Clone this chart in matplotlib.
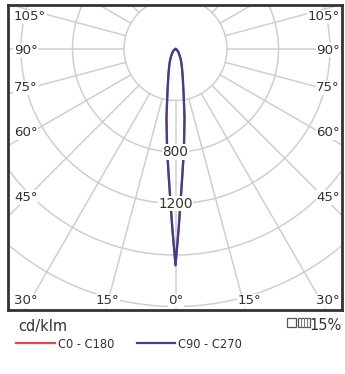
import numpy as np
import matplotlib
matplotlib.use('Agg')
import matplotlib.pyplot as plt
from matplotlib.lines import Line2D
from matplotlib.patches import Rectangle

# Light distribution, cd/klm, symmetric about 0 deg
gamma = [0, 1, 2, 3, 4, 5, 7.5, 10, 15, 20, 25, 30, 40, 50, 60, 70, 80, 90]
c0_c180 = [1680, 1390, 1160, 990, 860, 750, 530, 362, 212, 142, 100, 70, 38, 20, 10, 4, 1, 0]
c90_c270 = [1680, 1400, 1170, 1000, 870, 760, 540, 370, 216, 145, 103, 72, 39, 21, 10, 4, 1, 0]

ring_values = [400, 800, 1200, 1600, 2000, 2400, 2800]
ring_labels = [800, 1200]
spoke_angles = np.arange(0, 360, 15)

# angle labels: (text, x axes frac, y axes frac, ha)
angle_labels = [
    ('105°', 0.018, 0.961, 'left'), ('105°', 0.994, 0.961, 'right'),
    ('90°', 0.018, 0.852, 'left'), ('90°', 0.994, 0.852, 'right'),
    ('75°', 0.018, 0.728, 'left'), ('75°', 0.994, 0.728, 'right'),
    ('60°', 0.018, 0.582, 'left'), ('60°', 0.994, 0.582, 'right'),
    ('45°', 0.018, 0.369, 'left'), ('45°', 0.994, 0.369, 'right'),
    ('30°', 0.018, 0.030, 'left'), ('30°', 0.994, 0.030, 'right'),
    ('15°', 0.297, 0.030, 'center'), ('15°', 0.724, 0.030, 'center'),
    ('0°', 0.503, 0.030, 'center'),
]

GRID = '#cfcfcf'
RED = '#e5484b'
BLUE = '#3d3d98'
TXT = '#333333'


def curve_xy(angles, values):
    g = np.radians(np.array(angles, dtype=float))
    v = np.array(values, dtype=float)
    g = np.concatenate([-g[::-1], g[1:]])
    v = np.concatenate([v[::-1], v[1:]])
    return v * np.sin(g), -v * np.cos(g)


fig = plt.figure(figsize=(3.45, 3.74), dpi=100)
fig.patch.set_facecolor('white')

# frame: pixels 8..342 x, 5..310 y ; centre at (175.5, 49), 400 cd/klm = 51.5 px
s = 400 / 51.5
ax = fig.add_axes([8 / 345, (374 - 310) / 374, 334 / 345, 305 / 374])
ax.set_xlim((8 - 175.5) * s, (342 - 175.5) * s)
ax.set_ylim(-(310 - 49) * s, (49 - 5) * s)
ax.set_xticks([])
ax.set_yticks([])
for sp in ax.spines.values():
    sp.set_color(TXT)
    sp.set_linewidth(2)

t = np.linspace(0, 2 * np.pi, 400)
for r in ring_values:
    ax.plot(r * np.sin(t), r * np.cos(t), color=GRID, lw=1.1, zorder=1)
for a in spoke_angles:
    ar = np.radians(a)
    ax.plot([400 * np.sin(ar), 4000 * np.sin(ar)], [-400 * np.cos(ar), -4000 * np.cos(ar)],
            color=GRID, lw=1.1, zorder=1)

x, y = curve_xy(gamma, c0_c180)
ax.plot(x, y, color=RED, lw=1.6, zorder=3)
x, y = curve_xy(gamma, c90_c270)
ax.plot(x, y, color=BLUE, lw=1.6, zorder=4)

for v in ring_labels:
    ax.text(0, -v, str(v), ha='center', va='center', fontsize=9.8, color=TXT, zorder=5,
            bbox=dict(boxstyle='square,pad=0.05', fc='white', ec='none'))

for txt, xf, yf, ha in angle_labels:
    ax.text(xf, yf, txt, transform=ax.transAxes, ha=ha, va='center', fontsize=9.6,
            color=TXT, zorder=5, bbox=dict(boxstyle='square,pad=0.05', fc='white', ec='none'))

# legend area
fig.text(18 / 345, 1 - 326 / 374, 'cd/klm', fontsize=10.5, color=TXT, ha='left', va='center')
fig.add_artist(Line2D([16 / 345, 55 / 345], [1 - 343 / 374] * 2, color=RED, lw=1.6))
fig.text(58 / 345, 1 - 344 / 374, 'C0 - C180', fontsize=8.3, color=TXT, ha='left', va='center')
fig.add_artist(Line2D([137 / 345, 175 / 345], [1 - 343 / 374] * 2, color=BLUE, lw=1.6))
fig.text(178 / 345, 1 - 344 / 374, 'C90 - C270', fontsize=8.3, color=TXT, ha='left', va='center')

fig.text(342 / 345, 1 - 326 / 374, '15%', fontsize=10.5, color=TXT, ha='right', va='center')
fig.add_artist(Rectangle((287 / 345, 1 - 327 / 374), 9 / 345, 9 / 374, fill=False,
                         ec='#555555', lw=0.9, transform=fig.transFigure))
fig.add_artist(Rectangle((298 / 345, 1 - 327 / 374), 12 / 345, 9 / 374, fill=False,
                         ec='#555555', lw=0.9, transform=fig.transFigure))
for xp in [301, 304, 307]:
    fig.add_artist(Line2D([xp / 345] * 2, [1 - 327 / 374, 1 - 318 / 374], color='#777777', lw=0.7))

fig.savefig('out.png', dpi=100, facecolor='white')
